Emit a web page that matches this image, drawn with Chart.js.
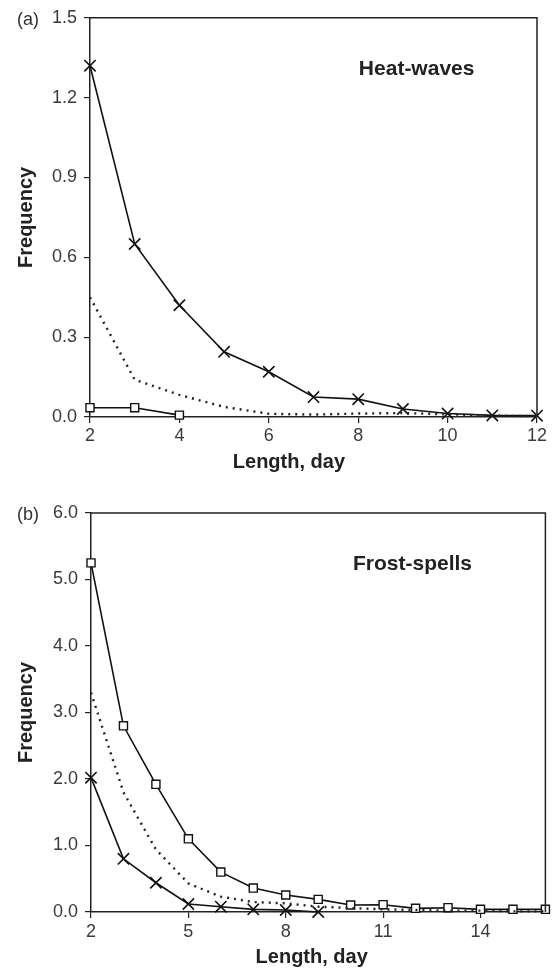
<!DOCTYPE html>
<html>
<head>
<meta charset="utf-8">
<script src="https://cdn.jsdelivr.net/npm/chart.js@4.4.0/dist/chart.umd.min.js"></script>
<style>
  html, body { margin: 0; padding: 0; background: #fff; }
  #wrap { position: relative; width: 555px; height: 973px; }
  canvas { position: absolute; left: 0; }
</style>
</head>
<body>
<div id="wrap">
  <canvas id="heatChart" width="555" height="477" style="top:0"></canvas>
  <canvas id="frostChart" width="555" height="496" style="top:477px"></canvas>
</div>
<script>
// --- data: (a) heat-waves ---
const lengthsA = [2, 3, 4, 5, 6, 7, 8, 9, 10, 11, 12];
const crossA   = [1.32, 0.65, 0.42, 0.245, 0.17, 0.075, 0.067, 0.03, 0.013, 0.006, 0.005];
const dottedA  = [0.45, 0.14, 0.083, 0.038, 0.012, 0.009, 0.013, 0.015, 0.01, 0.005, 0.003];
const squareLengthsA = [2, 3, 4];
const squareA  = [0.035, 0.035, 0.007];
const xTicksA  = [2, 4, 6, 8, 10, 12];
const yTicksA  = [0.0, 0.3, 0.6, 0.9, 1.2, 1.5];

// --- data: (b) frost-spells ---
const lengthsB = [2, 3, 4, 5, 6, 7, 8, 9, 10, 11, 12, 13, 14, 15, 16];
const squareB  = [5.25, 2.80, 1.92, 1.10, 0.60, 0.36, 0.255, 0.19, 0.105, 0.11, 0.055, 0.065, 0.04, 0.04, 0.04];
const dottedB  = [3.3, 1.8, 0.94, 0.43, 0.23, 0.15, 0.13, 0.08, 0.06, 0.04, 0.03, 0.02, 0.02, 0.01, 0.01];
const crossLengthsB = [2, 3, 4, 5, 6, 7, 8, 9];
const crossB   = [2.02, 0.80, 0.44, 0.12, 0.08, 0.04, 0.03, 0.0];
const xTicksB  = [2, 5, 8, 11, 14];
const yTicksB  = [0.0, 1.0, 2.0, 3.0, 4.0, 5.0, 6.0];

const FONT = '"Liberation Sans", Arial, Helvetica, sans-serif';
const INK = '#111';

const pts = (xs, ys) => xs.map((x, i) => ({ x: x, y: ys[i] }));

const crossSet = (data) => ({
  data, borderColor: INK, borderWidth: 1.6, tension: 0, clip: false,
  pointStyle: 'crossRot', pointRadius: 8, pointBorderWidth: 1.6, pointBorderColor: INK
});
const squareSet = (data) => ({
  data, borderColor: INK, borderWidth: 1.6, tension: 0, clip: false,
  pointStyle: 'rect', pointRadius: 5.7, pointBorderWidth: 1.4,
  pointBorderColor: INK, pointBackgroundColor: '#fff'
});
const dottedSet = (data) => ({
  data, borderColor: '#222', borderWidth: 2.4, borderDash: [2, 5], tension: 0,
  pointRadius: 0, clip: false
});

// frame on top/right, panel tag, panel title and x-axis title
const panelDecor = {
  id: 'panelDecor',
  afterDatasetsDraw(chart, args, opts) {
    const { ctx, chartArea: a } = chart;
    const xs = chart.scales.x;
    ctx.save();
    ctx.strokeStyle = '#222';
    ctx.lineWidth = 1.5;
    ctx.beginPath();
    ctx.moveTo(a.left, a.top);
    ctx.lineTo(a.right, a.top);
    ctx.lineTo(a.right, a.bottom);
    ctx.stroke();

    ctx.fillStyle = '#333';
    ctx.font = '18px ' + FONT;
    ctx.textAlign = 'left';
    ctx.textBaseline = 'middle';
    ctx.fillText(opts.tag, 17, a.top + 2);

    ctx.fillStyle = '#222';
    ctx.font = 'bold 21px ' + FONT;
    ctx.textAlign = 'right';
    ctx.textBaseline = 'alphabetic';
    ctx.fillText(opts.title, xs.getPixelForValue(opts.titleAt), a.top + 57);

    ctx.font = 'bold 20px ' + FONT;
    ctx.textAlign = 'center';
    ctx.textBaseline = 'middle';
    ctx.fillText('Length, day', xs.getPixelForValue(opts.xTitleAt), a.bottom + 45);
    ctx.restore();
  }
};

function makeChart(id, o) {
  return new Chart(document.getElementById(id), {
    type: 'line',
    data: { datasets: o.datasets },
    plugins: [panelDecor],
    options: {
      responsive: false,
      animation: false,
      devicePixelRatio: 1,
      layout: { padding: o.padding },
      plugins: {
        legend: { display: false },
        tooltip: { enabled: false },
        panelDecor: { tag: o.tag, title: o.title, titleAt: o.titleAt, xTitleAt: o.xTitleAt }
      },
      scales: {
        x: {
          type: 'linear', min: o.xMin, max: o.xMax,
          afterBuildTicks: s => { s.ticks = o.xTicks.map(v => ({ value: v })); },
          afterFit: s => { s.height = o.xHeight; },
          grid: { drawOnChartArea: false, tickLength: 6, color: '#222', lineWidth: 1.2 },
          border: { color: '#222', width: 1.5 },
          ticks: { color: '#3a3a3a', font: { family: FONT, size: 18 }, padding: o.xTickPad, maxRotation: 0 }
        },
        y: {
          min: o.yMin, max: o.yMax,
          afterBuildTicks: s => { s.ticks = o.yTicks.map(v => ({ value: v })); },
          afterFit: s => { s.width = o.yWidth; },
          grid: { drawOnChartArea: false, tickLength: 6, color: '#222', lineWidth: 1.2 },
          border: { color: '#222', width: 1.5 },
          ticks: { color: '#3a3a3a', font: { family: FONT, size: 18 }, padding: 7,
                   callback: v => Number(v).toFixed(1) },
          title: { display: true, text: 'Frequency', color: '#222',
                   font: { family: FONT, size: 20, weight: 'bold' }, padding: 14 }
        }
      }
    }
  });
}

// (a) Heat-waves
makeChart('heatChart', {
  tag: '(a)', title: 'Heat-waves', titleAt: 10.6, xTitleAt: 6.45,
  padding: { top: 14, right: 18, left: 0, bottom: 0 },
  xMin: 2, xMax: 12, xTicks: xTicksA, xHeight: 60, xTickPad: 2,
  yMin: 0, yMax: 1.5, yTicks: yTicksA, yWidth: 90,
  datasets: [
    dottedSet(pts(lengthsA, dottedA)),
    crossSet(pts(lengthsA, crossA)),
    squareSet(pts(squareLengthsA, squareA))
  ]
});

// (b) Frost-spells
makeChart('frostChart', {
  tag: '(b)', title: 'Frost-spells', titleAt: 13.74, xTitleAt: 8.8,
  padding: { top: 36, right: 7, left: 0, bottom: 0 },
  xMin: 2, xMax: 16, xTicks: xTicksB, xHeight: 61, xTickPad: 3,
  yMin: 0, yMax: 6, yTicks: yTicksB, yWidth: 91,
  datasets: [
    dottedSet(pts(lengthsB, dottedB)),
    crossSet(pts(crossLengthsB, crossB)),
    squareSet(pts(lengthsB, squareB))
  ]
});
</script>
</body>
</html>
